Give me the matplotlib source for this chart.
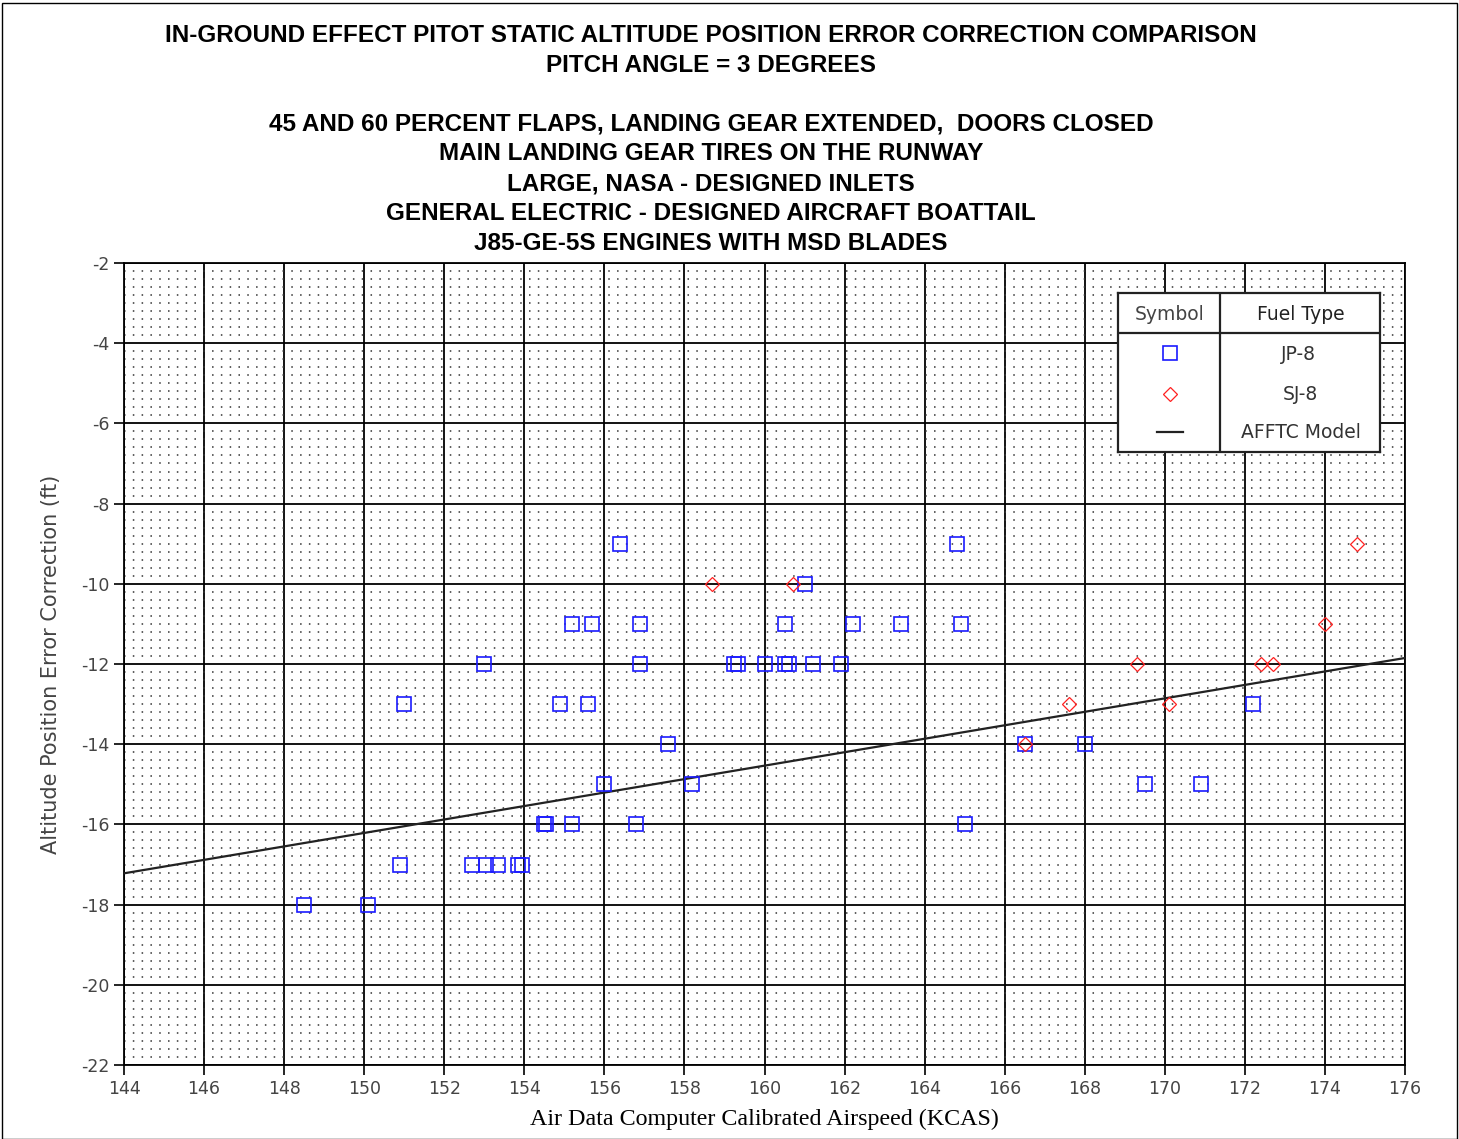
import numpy as np
import matplotlib
matplotlib.use('Agg')
import matplotlib.pyplot as plt
from matplotlib.patches import Rectangle
from matplotlib.ticker import MultipleLocator

plt.rcParams['axes.unicode_minus'] = False

# JP-8 points (KCAS, ft)
jp8_x = [148.5, 150.1, 150.9, 151.0, 153.0, 152.7, 153.05, 153.35, 153.85, 153.95,
         154.5, 154.55, 155.2, 156.8, 165.0, 155.2, 155.7, 156.9, 156.4, 156.9,
         154.9, 155.6, 157.6, 156.0, 158.2, 159.25, 159.35, 160.0, 160.5, 160.6,
         161.2, 161.9, 161.0, 160.5, 162.2, 163.4, 164.9, 164.8, 166.5, 168.0,
         169.5, 170.9, 172.2]
jp8_y = [-18, -18, -17, -13, -12, -17, -17, -17, -17, -17,
         -16, -16, -16, -16, -16, -11, -11, -11, -9, -12,
         -13, -13, -14, -15, -15, -12, -12, -12, -12, -12,
         -12, -12, -10, -11, -11, -11, -11, -9, -14, -14,
         -15, -15, -13]

# SJ-8 points
sj8_x = [158.7, 160.7, 166.5, 167.6, 169.3, 170.1, 172.4, 172.7, 174.0, 174.8]
sj8_y = [-10, -10, -14, -13, -12, -13, -12, -12, -11, -9]

# AFFTC model line end points
model_x = [144, 176]
model_y = [-17.22, -11.85]

title_lines = ['IN-GROUND EFFECT PITOT STATIC ALTITUDE POSITION ERROR CORRECTION COMPARISON',
               'PITCH ANGLE = 3 DEGREES',
               '',
               '45 AND 60 PERCENT FLAPS, LANDING GEAR EXTENDED,  DOORS CLOSED',
               'MAIN LANDING GEAR TIRES ON THE RUNWAY',
               'LARGE, NASA - DESIGNED INLETS',
               'GENERAL ELECTRIC - DESIGNED AIRCRAFT BOATTAIL',
               'J85-GE-5S ENGINES WITH MSD BLADES']

W, H = 1459, 1139
fig = plt.figure(figsize=(W / 100, H / 100), dpi=100)
ax = fig.add_axes([124 / W, 1 - 1065 / H, (1405 - 124) / W, (1065 - 263) / H])

ax.set_xlim(144, 176)
ax.set_ylim(-22, -2)
ax.xaxis.set_major_locator(MultipleLocator(2))
ax.yaxis.set_major_locator(MultipleLocator(2))
ax.xaxis.set_minor_locator(MultipleLocator(0.2))
ax.yaxis.set_minor_locator(MultipleLocator(0.2))

ax.grid(which='major', color='black', linewidth=1.3, zorder=1)
ax.grid(which='minor', axis='y', color='#333333', linestyle=(0, (1.0, 4.763)), linewidth=1.1, zorder=0)
ax.set_axisbelow(True)

ax.tick_params(which='minor', length=0)
ax.tick_params(which='major', direction='out', length=7, width=1.2, color='black',
               labelsize=12.5, labelcolor='#444444')
for s in ax.spines.values():
    s.set_linewidth(1.3)

ax.plot(model_x, model_y, color='#222222', linewidth=1.6, zorder=3)
ax.plot(jp8_x, jp8_y, linestyle='none', marker='s', markersize=10, markerfacecolor='none',
        markeredgecolor='#1a1aff', markeredgewidth=1.2, zorder=4)
ax.plot(sj8_x, sj8_y, linestyle='none', marker='D', markersize=7, markerfacecolor='none',
        markeredgecolor='#ff2020', markeredgewidth=0.9, zorder=4)

ax.set_ylabel('Altitude Position Error Correction (ft)', fontsize=15, color='#444444',
              fontfamily='DejaVu Sans', labelpad=14)
ax.set_xlabel('Air Data Computer Calibrated Airspeed (KCAS)', fontsize=17.3,
              fontfamily='Liberation Serif', labelpad=8)

for i, line in enumerate(title_lines):
    if line:
        fig.text(711 / W, 1 - (35 + 30 * i - (1 if i > 2 else 0)) / H, line, ha='center', va='center',
                 fontsize=17.5, fontweight='bold', fontfamily='Liberation Sans')

# legend table
lg = fig.add_axes([1118 / W, 1 - 452 / H, 262 / W, 159 / H], zorder=5)
lg.set_xlim(0, 262)
lg.set_ylim(159, 0)
lg.set_xticks([])
lg.set_yticks([])
lg.set_facecolor('white')
for s in lg.spines.values():
    s.set_linewidth(1.6)
    s.set_color('#222222')
lg.axvline(102, color='#222222', linewidth=1.6)
lg.axhline(40, color='#222222', linewidth=1.6)
lg.text(52, 22, 'Symbol', ha='center', va='center', fontsize=13.5, color='#444444', fontfamily='DejaVu Sans')
lg.text(183, 22, 'Fuel Type', ha='center', va='center', fontsize=13.5, color='#222222', fontfamily='DejaVu Sans')
lg.plot([52], [60], marker='s', markersize=10, markerfacecolor='none', markeredgecolor='#1a1aff',
        markeredgewidth=1.2, linestyle='none')
lg.plot([52], [101], marker='D', markersize=7, markerfacecolor='none', markeredgecolor='#ff2020',
        markeredgewidth=0.9, linestyle='none')
lg.plot([39, 65], [139, 139], color='#222222', linewidth=1.6)
lg.text(180, 61, 'JP-8', ha='center', va='center', fontsize=13.5, color='#333333', fontfamily='DejaVu Sans')
lg.text(182, 101, 'SJ-8', ha='center', va='center', fontsize=13.5, color='#333333', fontfamily='DejaVu Sans')
lg.text(183, 139, 'AFFTC Model', ha='center', va='center', fontsize=13.5, color='#333333', fontfamily='DejaVu Sans')

# outer frame
fig.patches.append(Rectangle((2 / W, 0), (W - 4) / W, 1 - 3 / H, transform=fig.transFigure,
                             fill=False, edgecolor='black', linewidth=1.0))

fig.savefig('out.png', dpi=100)
